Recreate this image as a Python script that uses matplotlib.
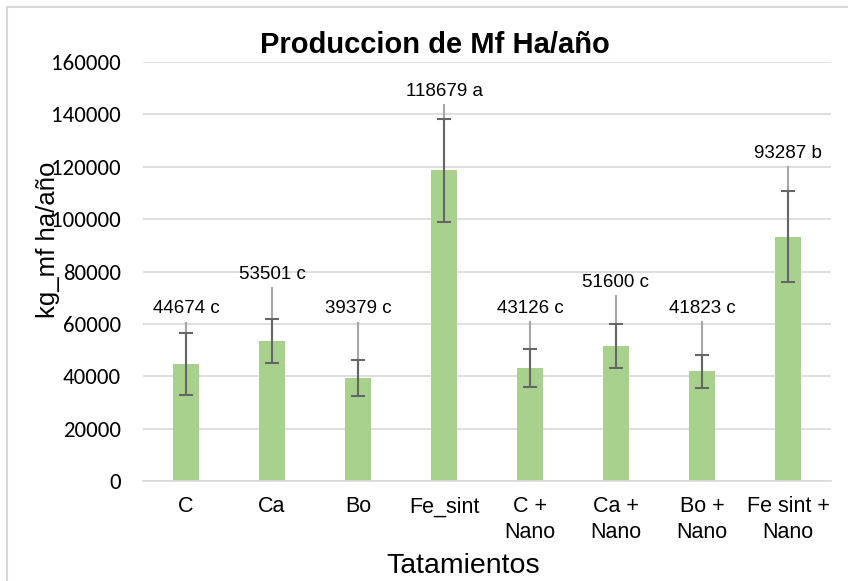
import matplotlib
matplotlib.use("Agg")
import matplotlib.pyplot as plt
from matplotlib.patches import Rectangle

# data
tratamientos = ["C", "Ca", "Bo", "Fe_sint", "C +\nNano", "Ca +\nNano", "Bo +\nNano", "Fe sint +\nNano"]
media = [44674, 53501, 39379, 118679, 43126, 51600, 41823, 93287]
error = [11700, 8500, 7000, 19700, 7300, 8400, 6300, 17300]
letras = ["c", "c", "c", "a", "c", "c", "c", "b"]
label_y = [65700, 78900, 65700, 148900, 66000, 75800, 66000, 125200]

W, H = 848, 581
fig = plt.figure(figsize=(W / 100, H / 100), dpi=100)
ax = fig.add_axes([143 / W, 1 - 481 / H, (831 - 143) / W, (481 - 62) / H])

x = list(range(len(tratamientos)))
ax.bar(x, media, width=0.31, color="#A9D18E", zorder=2)

# leader lines from label down to bar top
for i in x:
    ax.plot([i, i], [media[i], label_y[i] - 5300], color="#A6A6A6", lw=1.5, zorder=3)

ax.errorbar(x, media, yerr=error, fmt="none", ecolor="#666666", elinewidth=1.5,
            capsize=5, capthick=1.5, zorder=4)

for i in x:
    ax.text(i, label_y[i], f"{media[i]} {letras[i]}", ha="center", va="center",
            fontsize=13.5, family=["Liberation Sans", "DejaVu Sans"], color="#000000")

ax.set_xlim(-0.5, len(tratamientos) - 0.5)
ax.set_ylim(0, 160000)
ax.set_yticks(range(0, 160001, 20000))
ax.yaxis.grid(True, color="#D9D9D9", lw=1.2, zorder=0)
ax.set_axisbelow(True)
for s in ["top", "right", "left"]:
    ax.spines[s].set_visible(False)
ax.spines["bottom"].set_color("#D9D9D9")
ax.spines["bottom"].set_linewidth(1.2)
ax.tick_params(axis="both", length=0)
ax.tick_params(axis="y", pad=16)
ax.tick_params(axis="x", pad=11)
ax.set_xticks(x)
ax.set_xticklabels(tratamientos, fontsize=15.5, linespacing=1.3,
                   family=["Liberation Sans Narrow", "Liberation Sans"])
for t in ax.get_yticklabels():
    t.set_fontsize(16.5)
    t.set_family(["Carlito", "Liberation Sans", "DejaVu Sans"])

fig.text(435 / W, 1 - 45 / H, "Produccion de Mf Ha/año", ha="center", va="center",
         fontsize=21, fontweight="bold", family=["Liberation Sans", "DejaVu Sans"])
fig.text(48 / W, 1 - 240 / H, "kg_mf ha/año", ha="center", va="center", rotation=90,
         fontsize=18.5, family=["Liberation Sans Narrow", "Liberation Sans"])
fig.text(463 / W, 1 - 566 / H, "Tatamientos", ha="center", va="center",
         fontsize=20.5, family=["Liberation Sans Narrow", "Liberation Sans"])

# chart border like the spreadsheet frame
fig.patches.append(Rectangle((7 / W, -0.1), 1.2, 1 - 7 / H + 0.1, transform=fig.transFigure,
                             fill=False, edgecolor="#D9D9D9", lw=1.5))

fig.savefig("out.png", dpi=100)
